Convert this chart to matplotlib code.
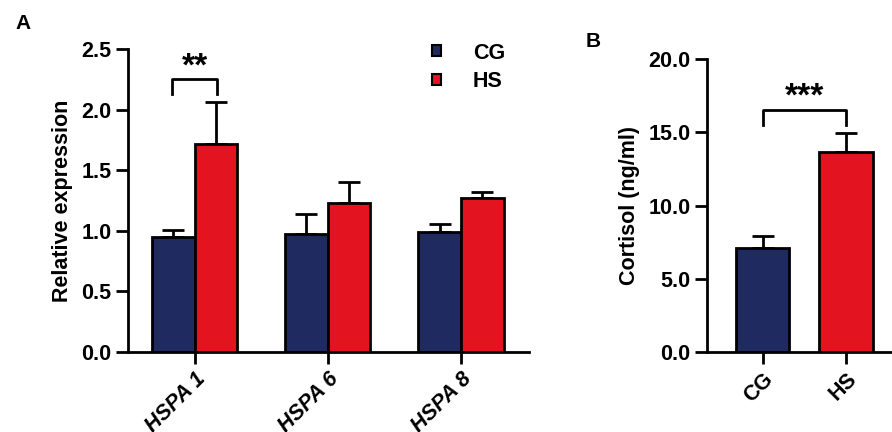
import numpy as np
import matplotlib.pyplot as plt

plt.rcParams['font.family'] = ['Liberation Sans', 'DejaVu Sans']
plt.rcParams['font.weight'] = 'bold'

# panel A data
genes = ['HSPA 1', 'HSPA 6', 'HSPA 8']
cg_mean = [0.95, 0.97, 0.99]
cg_err = [0.06, 0.17, 0.07]
hs_mean = [1.72, 1.23, 1.27]
hs_err = [0.34, 0.17, 0.05]

# panel B data
groups_b = ['CG', 'HS']
cortisol_mean = [7.1, 13.65]
cortisol_err = [0.8, 1.3]

navy = '#1f2b60'
red = '#e3141f'
lw = 2.0
fs = 15.5


def style_axes(ax):
	for s in ['top', 'right']:
		ax.spines[s].set_visible(False)
	for s in ['left', 'bottom']:
		ax.spines[s].set_linewidth(lw)
	ax.tick_params(width=lw, length=8.5, labelsize=fs)
	for t in ax.get_yticklabels():
		t.set_fontweight('bold')


fig = plt.figure(figsize=(8.92, 4.32), dpi=100)
ax1 = fig.add_axes([0.1435, 0.1852, 0.4495, 0.7014])
ax2 = fig.add_axes([0.7926, 0.1852, 0.2074, 0.6782])

# ---- A ----
x = np.arange(len(genes))
w = 0.32
ax1.bar(x - w / 2, cg_mean, w, color=navy, edgecolor='k', linewidth=lw, label='CG', zorder=2)
ax1.bar(x + w / 2, hs_mean, w, color=red, edgecolor='k', linewidth=lw, label='HS', zorder=2)
ax1.errorbar(x - w / 2, cg_mean, yerr=[np.zeros(3), cg_err], fmt='none', ecolor='k',
			 elinewidth=lw, capsize=8, capthick=lw, zorder=1)
ax1.errorbar(x + w / 2, hs_mean, yerr=[np.zeros(3), hs_err], fmt='none', ecolor='k',
			 elinewidth=lw, capsize=8, capthick=lw, zorder=1)
ax1.set_xlim(-0.5, 2.51)
ax1.set_ylim(0, 2.5)
ax1.set_yticks([0, 0.5, 1.0, 1.5, 2.0, 2.5])
ax1.set_yticklabels(['0.0', '0.5', '1.0', '1.5', '2.0', '2.5'])
ax1.set_xticks(x)
ax1.set_xticklabels(genes, rotation=45, ha='right', rotation_mode='anchor',
					fontstyle='italic', fontweight='bold', fontsize=fs)
ax1.set_ylabel('Relative expression', fontsize=fs, fontweight='bold', labelpad=6)
style_axes(ax1)

# significance bracket
ax1.plot([-0.17, -0.17, 0.17, 0.17], [2.125, 2.25, 2.25, 2.125], color='k', lw=lw, clip_on=False)
ax1.text(0, 2.35, '**', ha='center', va='center', fontsize=24, fontweight='bold')

leg = ax1.legend(loc='upper left', bbox_to_anchor=(0.71, 1.085), frameon=False, fontsize=fs,
				 handlelength=0.4, handleheight=0.4, handletextpad=1.5, labelspacing=0.35)
for h in leg.legend_handles:
	h.set_linewidth(1.5)

# ---- B ----
xb = np.arange(len(groups_b))
ax2.bar(xb, cortisol_mean, 0.64, color=[navy, red], edgecolor='k', linewidth=lw, zorder=2)
ax2.errorbar(xb, cortisol_mean, yerr=[np.zeros(2), cortisol_err], fmt='none', ecolor='k',
			 elinewidth=lw, capsize=8, capthick=lw, zorder=1)
ax2.set_xlim(-0.67, 1.55)
ax2.set_ylim(0, 20)
ax2.set_yticks([0, 5, 10, 15, 20])
ax2.set_yticklabels(['0.0', '5.0', '10.0', '15.0', '20.0'])
ax2.set_xticks(xb)
ax2.set_xticklabels(groups_b, rotation=45, ha='right', rotation_mode='anchor',
					fontweight='bold', fontsize=fs)
ax2.set_ylabel('Cortisol (ng/ml)', fontsize=fs, fontweight='bold', labelpad=6)
style_axes(ax2)

ax2.plot([0, 0, 1, 1], [15.5, 16.55, 16.55, 15.5], color='k', lw=lw, clip_on=False)
ax2.text(0.5, 17.4, '***', ha='center', va='center', fontsize=24, fontweight='bold')

fig.text(0.017, 0.945, 'A', fontsize=15, fontweight='bold', va='center')
fig.text(0.656, 0.903, 'B', fontsize=15, fontweight='bold', va='center')

fig.savefig('out.png', dpi=100)
